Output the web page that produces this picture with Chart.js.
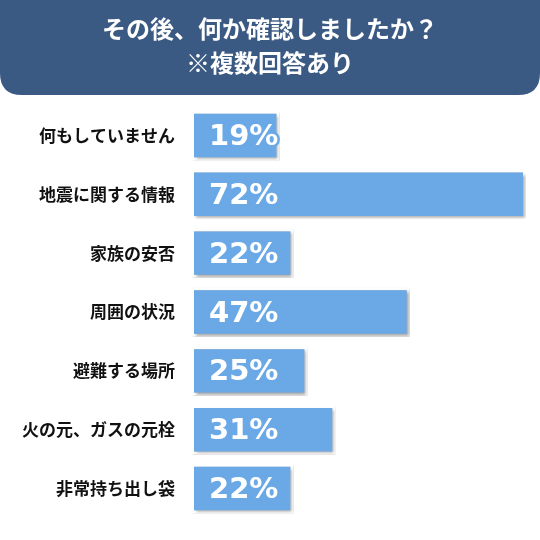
<!DOCTYPE html>
<html>
<head>
<meta charset="utf-8">
<script src="https://cdn.jsdelivr.net/npm/chart.js@4"></script>
<style>
  html, body { margin: 0; padding: 0; background: #fff; }
  #wrap { width: 540px; height: 540px; }
</style>
</head>
<body>
<div id="wrap"><canvas id="c" width="540" height="540"></canvas></div>
<script>
const titleLines = ["その後、何か確認しましたか？", "※複数回答あり"];
const categories = ["何もしていません", "地震に関する情報", "家族の安否", "周囲の状況", "避難する場所", "火の元、ガスの元栓", "非常持ち出し袋"];
const values = [19, 72, 22, 47, 25, 31, 22];

const JP = "'Noto Sans CJK JP', 'Noto Sans', sans-serif";

// 上の紺色の帯
const bannerPlugin = {
  id: "banner",
  beforeDraw(chart) {
    const ctx = chart.ctx;
    const w = chart.width, h = 95, r = 22;
    ctx.save();
    ctx.fillStyle = "#3b5a83";
    ctx.beginPath();
    ctx.moveTo(0, 0);
    ctx.lineTo(w, 0);
    ctx.lineTo(w, h - r);
    ctx.quadraticCurveTo(w, h, w - r, h);
    ctx.lineTo(r, h);
    ctx.quadraticCurveTo(0, h, 0, h - r);
    ctx.closePath();
    ctx.fill();
    ctx.fillStyle = "#fff";
    ctx.font = "bold 24px " + JP;
    ctx.textAlign = "center";
    ctx.textBaseline = "middle";
    ctx.fillText(titleLines[0], w / 2, 29);
    ctx.fillText(titleLines[1], w / 2, 63);
    ctx.restore();
  }
};

// バーの影
const shadowPlugin = {
  id: "shadow",
  beforeDatasetsDraw(chart) {
    const ctx = chart.ctx;
    ctx.save();
    ctx.shadowColor = "rgba(0,0,0,0.35)";
    ctx.shadowBlur = 3;
    ctx.shadowOffsetX = 2;
    ctx.shadowOffsetY = 2;
  },
  afterDatasetsDraw(chart) {
    chart.ctx.restore();
  }
};

// バー内の数値
const valuePlugin = {
  id: "values",
  afterDatasetsDraw(chart) {
    const ctx = chart.ctx;
    const meta = chart.getDatasetMeta(0);
    ctx.save();
    ctx.font = "bold 29px 'DejaVu Sans', sans-serif";
    ctx.textAlign = "left";
    ctx.textBaseline = "middle";
    ctx.lineJoin = "round";
    meta.data.forEach((bar, i) => {
      const t = values[i] + "%";
      const x = bar.base + 18, y = bar.y + 2;
      ctx.strokeStyle = "#6aa8e6";
      ctx.lineWidth = 5;
      ctx.strokeText(t, x, y);
      ctx.fillStyle = "#fff";
      ctx.fillText(t, x, y);
    });
    ctx.restore();
  }
};

new Chart(document.getElementById("c"), {
  type: "bar",
  data: {
    labels: categories,
    datasets: [{
      data: values,
      backgroundColor: "#6aa8e6",
      borderColor: "#ffffff",
      borderWidth: 3,
      borderSkipped: false,
      barPercentage: 0.84,
      categoryPercentage: 1
    }]
  },
  options: {
    indexAxis: "y",
    responsive: false,
    animation: false,
    layout: { padding: { top: 106, bottom: 22, right: 14, left: 0 } },
    scales: {
      x: { display: false, min: 0, max: 72 },
      y: {
        grid: { display: false, drawBorder: false },
        border: { display: false },
        afterFit(scale) { scale.width = 191; },
        ticks: {
          color: "#111",
          padding: 8,
          font: { family: JP, size: 17, weight: "bold" }
        }
      }
    },
    plugins: {
      legend: { display: false },
      tooltip: { enabled: false }
    }
  },
  plugins: [bannerPlugin, shadowPlugin, valuePlugin]
});
</script>
</body>
</html>
